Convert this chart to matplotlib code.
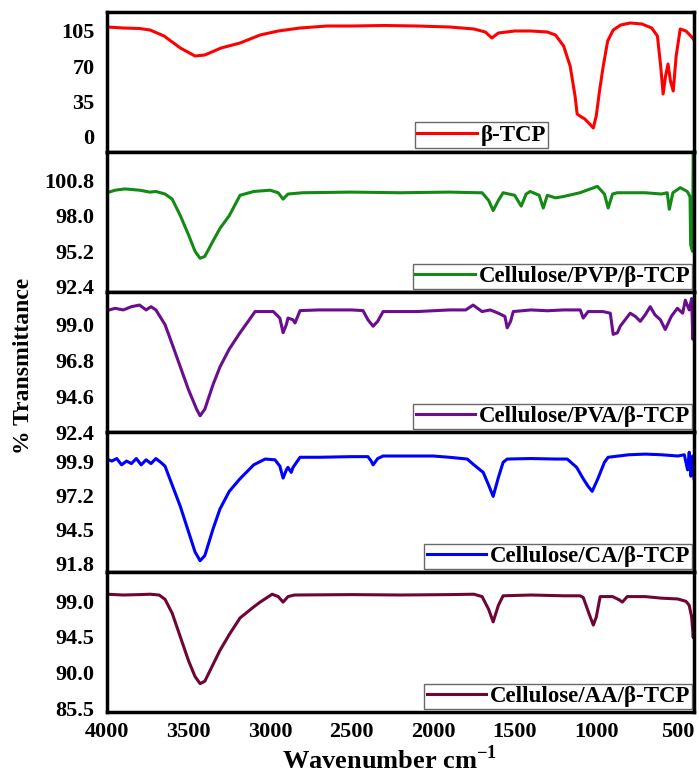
# FTIR spectra of beta-TCP and the four cellulose composites, stacked panels
import matplotlib.pyplot as plt

plt.rcParams['font.family'] = ['Liberation Serif', 'DejaVu Serif']
plt.rcParams['font.weight'] = 'bold'
plt.rcParams['mathtext.fontset'] = 'custom'
plt.rcParams['mathtext.rm'] = 'Liberation Serif:bold'
plt.rcParams['mathtext.bf'] = 'Liberation Serif:bold'

# --- data (wavenumber cm-1, % transmittance) ---
wn_tcp = [4000, 3900, 3800, 3736, 3650, 3550, 3460, 3400, 3300, 3184, 3061, 2950, 2816, 2650,
          2500, 2300, 2100, 1900, 1750, 1680, 1640, 1600, 1500, 1400, 1300, 1250, 1200, 1160,
          1130, 1117, 1100, 1070, 1040, 1018, 1000, 980, 957, 930, 896, 850, 792, 720, 660,
          625, 605, 590, 575, 560, 545, 528, 510, 485, 450, 420, 400]
t_tcp = [109, 108, 107.5, 106, 100, 88, 80, 81, 88, 93, 101, 105, 108, 110,
         110, 110.5, 110, 109, 107, 104, 98, 103, 105, 105, 104, 101, 90, 70,
         40, 22, 20, 17, 12, 8, 20, 45, 70, 95, 106, 111, 113, 112, 108,
         100, 70, 42, 60, 72, 55, 45, 80, 107, 105, 100, 96]

wn_pvp = [4000, 3950, 3890, 3800, 3736, 3700, 3644, 3600, 3550, 3500, 3460, 3429, 3400, 3350,
          3307, 3250, 3184, 3100, 3000, 2950, 2920, 2890, 2800, 2500, 2200, 1900, 1720, 1700,
          1660, 1632, 1600, 1571, 1500, 1460, 1430, 1405, 1350, 1325, 1300, 1250, 1202, 1100,
          993, 950, 927, 900, 871, 700, 600, 565, 552, 530, 485, 442, 425, 421, 410, 405, 400]
t_pvp = [99.8, 100.0, 100.1, 100.0, 99.85, 99.9, 99.7, 99.3, 98.0, 96.5, 95.2, 94.65, 94.8, 96.0,
         97.0, 98.0, 99.6, 99.9, 100.0, 99.8, 99.3, 99.7, 99.8, 99.85, 99.8, 99.85, 99.8, 99.8,
         99.2, 98.4, 99.2, 99.8, 99.6, 98.75, 99.7, 99.9, 99.6, 98.6, 99.6, 99.4, 99.5, 99.8,
         100.3, 99.7, 98.6, 99.7, 99.8, 99.8, 99.7, 99.8, 98.5, 99.8, 100.2, 99.9, 99.5, 95.7,
         95.2, 103.5, 99.0]

wn_pva = [4000, 3950, 3900, 3850, 3800, 3760, 3730, 3700, 3675, 3644, 3600, 3550, 3500, 3450,
          3429, 3400, 3350, 3307, 3250, 3184, 3120, 3092, 2980, 2940, 2920, 2900, 2890, 2860,
          2847, 2816, 2700, 2500, 2430, 2400, 2368, 2340, 2307, 2100, 1900, 1800, 1755, 1700,
          1650, 1600, 1560, 1546, 1525, 1509, 1400, 1300, 1200, 1098, 1080, 1050, 960, 914,
          896, 870, 853, 792, 760, 730, 700, 669, 640, 607, 577, 540, 503, 470, 454, 430,
          415, 408, 402]
t_pva = [99.86, 100.0, 99.9, 100.1, 100.2, 99.9, 100.1, 99.9, 99.5, 99.0, 97.8, 96.4, 95.0, 93.8,
         93.4, 93.8, 95.3, 96.4, 97.5, 98.5, 99.4, 99.8, 99.8, 99.4, 98.5, 99.0, 99.4, 99.3,
         99.1, 99.86, 99.9, 99.9, 99.86, 99.3, 98.9, 99.2, 99.8, 99.8, 99.9, 99.9, 100.2, 99.8,
         99.9, 99.7, 99.5, 98.8, 99.2, 99.8, 99.9, 99.85, 99.9, 99.9, 99.4, 99.8, 99.8, 99.7,
         98.4, 98.5, 98.9, 99.7, 99.5, 99.2, 99.6, 100.1, 99.6, 99.3, 98.7, 99.5, 100.0, 99.7,
         100.5, 99.9, 100.6, 98.1, 99.5]

wn_ca = [4000, 3970, 3940, 3910, 3880, 3850, 3820, 3790, 3760, 3730, 3700, 3670, 3644, 3600,
         3550, 3500, 3460, 3429, 3400, 3350, 3307, 3250, 3184, 3100, 3030, 2970, 2940, 2920,
         2900, 2890, 2870, 2859, 2816, 2700, 2500, 2400, 2380, 2368, 2340, 2307, 2000, 1900,
         1791, 1750, 1693, 1660, 1632, 1600, 1571, 1546, 1400, 1250, 1178, 1120, 1080, 1050,
         1025, 990, 950, 927, 800, 700, 600, 500, 460, 440, 430, 420, 410, 400]
t_ca = [100.06, 99.9, 100.1, 99.6, 99.9, 99.7, 100.1, 99.6, 100.0, 99.7, 100.1, 99.8, 99.5, 98.0,
        96.3, 94.3, 92.7, 92.0, 92.4, 94.5, 96.1, 97.5, 98.5, 99.6, 100.06, 100.0, 99.5, 98.55,
        99.2, 99.4, 99.0, 99.4, 100.2, 100.2, 100.25, 100.25, 99.9, 99.6, 100.1, 100.3, 100.3, 100.2,
        100.06, 99.6, 99.0, 98.0, 97.1, 98.6, 99.8, 100.06, 100.1, 100.06, 100.06, 99.4, 98.5, 97.9,
        97.5, 98.5, 99.8, 100.2, 100.4, 100.45, 100.4, 100.3, 100.4, 99.2, 100.6, 98.7, 100.3, 98.5]

wn_aa = [4000, 3900, 3800, 3736, 3680, 3644, 3600, 3550, 3500, 3460, 3429, 3400, 3350, 3307,
         3250, 3184, 3100, 3061, 2987, 2950, 2920, 2890, 2850, 2500, 2200, 1900, 1750, 1700,
         1660, 1632, 1600, 1571, 1400, 1200, 1100, 1080, 1040, 1018, 1000, 976, 900, 860,
         840, 810, 700, 600, 500, 450, 430, 415, 405, 400]
t_aa = [99.9, 99.8, 99.85, 99.9, 99.8, 99.26, 97.5, 94.5, 91.5, 89.5, 88.6, 88.9, 91.0, 92.8,
        94.8, 96.9, 98.3, 98.9, 99.9, 99.6, 98.9, 99.6, 99.8, 99.85, 99.8, 99.85, 99.9, 99.6,
        98.0, 96.4, 98.5, 99.7, 99.8, 99.7, 99.7, 99.5, 97.2, 96.0, 97.0, 99.6, 99.6, 99.2,
        98.9, 99.6, 99.6, 99.4, 99.3, 99.0, 98.5, 97.0, 94.4, 97.0]

labels = ['β-TCP', 'Cellulose/PVP/β-TCP', 'Cellulose/PVA/β-TCP',
          'Cellulose/CA/β-TCP', 'Cellulose/AA/β-TCP']
colors = ['#ff0000', '#138a13', '#6a0d91', '#0000ff', '#6e0535']
yticks = [[0, 35, 70, 105],
          [92.4, 95.2, 98.0, 100.8],
          [92.4, 94.6, 96.8, 99.0],
          [91.8, 94.5, 97.2, 99.9],
          [85.5, 90.0, 94.5, 99.0]]
ylims = [(-16, 124), (92.0, 103.0), (92.4, 101.0), (91.1, 102.2), (85.0, 102.7)]
xticks = [4000, 3500, 3000, 2500, 2000, 1500, 1000, 500]

series = [(wn_tcp, t_tcp), (wn_pvp, t_pvp), (wn_pva, t_pva), (wn_ca, t_ca), (wn_aa, t_aa)]

fig, axes = plt.subplots(5, 1, figsize=(6.99, 7.74), dpi=100, sharex=True)
fig.subplots_adjust(left=0.153, right=0.993, top=0.9845, bottom=0.080, hspace=0)

for i, ax in enumerate(axes):
    x, y = series[i]
    ax.plot(x, y, color=colors[i], lw=2.2, label=labels[i])
    ax.set_ylim(*ylims[i])
    ax.set_yticks(yticks[i])
    if i == 0:
        ax.set_yticklabels([str(v) for v in yticks[i]])
    else:
        ax.set_yticklabels(['%.1f' % v for v in yticks[i]])
    ax.tick_params(length=0, labelsize=16, pad=9)
    ax.tick_params(axis='x', pad=7)
    for s in ax.spines.values():
        s.set_linewidth(2.5)
    if i == 0:
        leg = ax.legend(loc='lower left', bbox_to_anchor=(0.525, 0.03), fontsize=16.5,
                        handlelength=2.6, handletextpad=0.15, borderpad=0.1,
                        borderaxespad=0, fancybox=False)
    else:
        leg = ax.legend(loc='lower right', bbox_to_anchor=(0.997, 0.02), fontsize=16.5,
                        handlelength=2.6, handletextpad=0.15, borderpad=0.1,
                        borderaxespad=0, fancybox=False)
    leg.get_frame().set_edgecolor('#444444')
    leg.get_frame().set_linewidth(1.0)

axes[-1].set_xlim(4000, 400)
axes[-1].set_xticks(xticks)
axes[-1].set_xticklabels([str(v) for v in xticks])

fig.text(0.558, 0.018, 'Wavenumber cm$^{-1}$', ha='center', va='center',
         fontsize=19, fontweight='bold')
fig.text(0.033, 0.527, '% Transmittance', rotation=90, ha='center', va='center',
         fontsize=17, fontweight='bold')

plt.savefig('out.png', dpi=100)
